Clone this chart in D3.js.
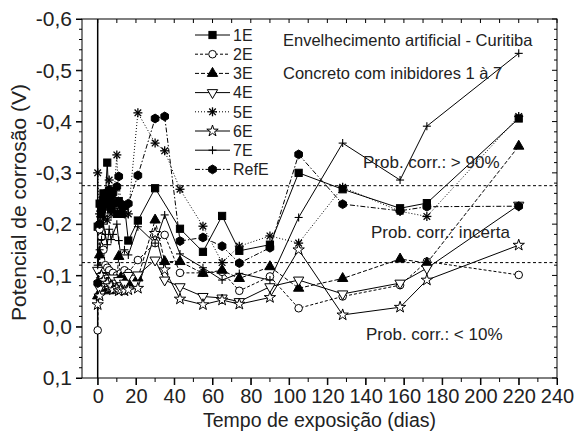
<!DOCTYPE html>
<html><head><meta charset="utf-8">
<script src="https://cdn.jsdelivr.net/npm/d3@7"></script>
<style>
html,body{margin:0;padding:0;background:#fff;}
svg{display:block;font-family:"Liberation Sans",Arial,Helvetica,sans-serif;}
</style></head>
<body><div id="chart"></div>
<script>
// ---- data ----
const days = [0, 1, 2, 3, 4, 5, 6, 7, 8, 10, 11, 12, 14, 16, 21, 30, 35, 43, 55, 65, 74, 90, 105, 128, 158, 172, 220];
const s1E  = [-0.195,-0.24,-0.22,-0.26,-0.25,-0.32,-0.24,-0.23,-0.24,-0.22,-0.245,-0.22,-0.235,-0.168,-0.207,-0.27,null,-0.191,-0.146,-0.216,-0.148,-0.16,-0.30,-0.268,-0.231,-0.241,-0.406];
const s2E  = [0.007,-0.19,-0.175,-0.15,-0.12,-0.115,-0.11,-0.10,-0.105,-0.10,-0.095,-0.104,-0.11,-0.105,-0.13,-0.163,-0.179,-0.105,-0.105,-0.107,-0.07,-0.098,-0.036,-0.059,-0.081,-0.127,-0.101];
const s3E  = [-0.06,-0.14,-0.09,-0.08,-0.075,-0.085,-0.07,-0.08,-0.085,-0.09,-0.137,-0.095,-0.09,-0.085,-0.095,-0.208,-0.127,-0.127,-0.104,-0.11,-0.094,-0.117,-0.075,-0.094,-0.132,-0.124,-0.352];
const s4E  = [-0.11,-0.075,-0.09,-0.10,-0.095,-0.085,-0.08,-0.09,-0.095,-0.085,-0.09,-0.08,-0.085,-0.10,-0.101,-0.13,-0.091,-0.078,-0.059,-0.056,-0.049,-0.078,-0.091,-0.064,-0.085,-0.114,-0.237];
const s5E  = [-0.30,-0.22,-0.24,-0.21,-0.23,-0.208,-0.286,-0.22,-0.23,-0.335,-0.24,-0.23,-0.22,-0.22,-0.417,-0.358,-0.343,-0.268,-0.196,-0.125,-0.157,-0.177,-0.163,-0.272,-0.225,-0.215,-0.41];
const s6E  = [-0.043,-0.06,-0.10,-0.09,-0.08,-0.085,-0.075,-0.08,-0.072,-0.075,-0.07,-0.072,-0.07,-0.072,-0.075,-0.182,-0.111,-0.054,-0.043,-0.052,-0.044,-0.057,-0.15,-0.023,-0.038,-0.091,-0.159];
const s7E  = [-0.12,-0.15,-0.17,-0.20,-0.18,-0.16,-0.19,-0.17,-0.18,-0.20,-0.168,-0.14,-0.15,-0.14,-0.195,-0.163,-0.218,-0.142,-0.115,-0.091,-0.104,-0.091,-0.213,-0.358,-0.286,-0.391,-0.533];
const sRefE= [-0.085,-0.20,-0.23,-0.25,-0.26,-0.24,-0.267,-0.25,-0.26,-0.273,-0.293,-0.24,-0.235,-0.24,-0.295,-0.406,-0.41,-0.167,-0.174,-0.157,-0.124,-0.154,-0.336,-0.239,-0.226,-0.234,-0.235];
const seriesNames = ["1E","2E","3E","4E","5E","6E","7E","RefE"];
const xTicks = [0,20,40,60,80,100,120,140,160,180,200,220,240];
const yTicks = [-0.6,-0.5,-0.4,-0.3,-0.2,-0.1,0.0,0.1];
const thresholds = [-0.275, -0.125];
const texts = ["Envelhecimento artificial - Curitiba","Concreto com inibidores 1 à 7","Prob. corr.: > 90%","Prob. corr.: incerta","Prob. corr.: < 10%"];

// ---- layout ----
const W = 578, H = 436;
const L = 82, R = 557, T = 19, B = 378;
const svg = d3.select("#chart").append("svg").attr("width", W).attr("height", H);
const x = d3.scaleLinear().domain([-8.2, 240]).range([L, R]);
const y = d3.scaleLinear().domain([-0.6, 0.1]).range([T, B]);
const fmt = v => d3.format(".1f")(Math.abs(v) < 1e-9 ? 0 : v).replace("−","-").replace(".", ",");

// frame
svg.append("rect").attr("x", L).attr("y", T).attr("width", R-L).attr("height", B-T)
  .attr("fill","none").attr("stroke","#000").attr("stroke-width",1);

// minor ticks
const xMinor = d3.range(0, 241, 10);
const yMinor = d3.range(-30, 6).map(d => d/50);
svg.append("g").selectAll("line").data(xMinor).join("line")
  .attr("x1", d=>x(d)).attr("x2", d=>x(d)).attr("y1", B).attr("y2", d => B + (d%20===0?7:4))
  .attr("stroke","#000");
svg.append("g").selectAll("line").data(xMinor).join("line")
  .attr("x1", d=>x(d)).attr("x2", d=>x(d)).attr("y1", T).attr("y2", T+4)
  .attr("stroke","#000");
svg.append("g").selectAll("line").data(yMinor).join("line")
  .attr("y1", d=>y(d)).attr("y2", d=>y(d)).attr("x1", L).attr("x2", d => L - (Math.abs(Math.round(d*50))%5===0?6:3))
  .attr("stroke","#000");
svg.append("g").selectAll("line").data(yMinor).join("line")
  .attr("y1", d=>y(d)).attr("y2", d=>y(d)).attr("x1", R).attr("x2", d => R - (Math.abs(Math.round(d*50))%5===0?5:3))
  .attr("stroke","#000");

// axes labels via d3 axes
const xAxis = d3.axisBottom(x).tickValues(xTicks).tickSize(7).tickPadding(4).tickSizeOuter(0).tickFormat(d3.format("d"));
const gx = svg.append("g").attr("transform", `translate(0,${B})`).call(xAxis);
gx.select(".domain").remove();
gx.selectAll("text").attr("font-size", 20).attr("fill","#222").attr("font-family","Liberation Sans, Arial, sans-serif");
const yAxis = d3.axisLeft(y).tickValues(yTicks).tickSize(6).tickPadding(4).tickSizeOuter(0).tickFormat(fmt);
const gy = svg.append("g").attr("transform", `translate(${L},0)`).call(yAxis);
gy.select(".domain").remove();
gy.selectAll("text").attr("font-size", 21).attr("fill","#222").attr("font-family","Liberation Sans, Arial, sans-serif");

// titles
svg.append("text").attr("x", (L+R)/2).attr("y", 427).attr("text-anchor","middle")
  .attr("font-size", 19.5).attr("fill","#222").text("Tempo de exposição (dias)");
svg.append("text").attr("transform", `translate(26,${(T+B)/2+4}) rotate(-90)`).attr("text-anchor","middle")
  .attr("font-size", 21).attr("fill","#222").text("Potencial de corrosão (V)");

// reference lines
svg.append("line").attr("x1", x(0)).attr("x2", x(0)).attr("y1", T).attr("y2", B)
  .attr("stroke","#000").attr("stroke-width",1.5);
svg.append("g").selectAll("line").data(thresholds).join("line")
  .attr("x1", L).attr("x2", R).attr("y1", d=>y(d)).attr("y2", d=>y(d))
  .attr("stroke","#000").attr("stroke-width",1).attr("stroke-dasharray","3,2.5");

// series
const seriesData = [s1E,s2E,s3E,s4E,s5E,s6E,s7E,sRefE];
const dashes = [null,"3,2","4,2",null,"1,2",null,null,"5,2,1.5,2"];
const hex = d3.range(6).map(i => [4.4*Math.cos(Math.PI/6 + i*Math.PI/3), 4.4*Math.sin(Math.PI/6 + i*Math.PI/3)]);
function marker(g, i) {
  g.attr("stroke","#000").attr("stroke-width",1);
  switch(i){
    case 0: g.append("rect").attr("x",-3.6).attr("y",-3.6).attr("width",7.2).attr("height",7.2).attr("fill","#000"); break;
    case 1: g.append("circle").attr("r",3.8).attr("fill","#fff"); break;
    case 2: g.append("path").attr("d", d3.symbol(d3.symbolTriangle, 46)()).attr("fill","#000"); break;
    case 3: g.append("path").attr("d", d3.symbol(d3.symbolTriangle, 46)()).attr("transform","rotate(180)").attr("fill","#fff"); break;
    case 4: [[0,-4.5,0,4.5],[-4.5,0,4.5,0],[-3.3,-3.3,3.3,3.3],[-3.3,3.3,3.3,-3.3]].forEach(l =>
              g.append("line").attr("x1",l[0]).attr("y1",l[1]).attr("x2",l[2]).attr("y2",l[3]).attr("stroke-width",1.3)); break;
    case 5: g.append("path").attr("d", d3.symbol(d3.symbolStar, 40)()).attr("fill","#fff"); break;
    case 6: [[0,-4,0,4],[-4,0,4,0]].forEach(l =>
              g.append("line").attr("x1",l[0]).attr("y1",l[1]).attr("x2",l[2]).attr("y2",l[3]).attr("stroke-width",1.1)); break;
    case 7: g.append("path").attr("d", "M" + hex.join("L") + "Z").attr("fill","#000"); break;
  }
}
const line = d3.line().defined(d => d[1] !== null).x(d => x(d[0])).y(d => y(d[1]));
const plot = svg.append("g");
seriesData.forEach((vals, i) => {
  const pts = days.map((d, k) => [d, vals[k]]).filter(p => p[1] !== null);
  plot.append("path").datum(pts).attr("d", line).attr("fill","none").attr("stroke","#000")
    .attr("stroke-width",1).attr("stroke-dasharray", dashes[i]);
});
seriesData.forEach((vals, i) => {
  const pts = days.map((d, k) => [d, vals[k]]).filter(p => p[1] !== null);
  plot.append("g").selectAll("g").data(pts).join("g")
    .attr("transform", p => `translate(${x(p[0])},${y(p[1])})`)
    .each(function(){ marker(d3.select(this), i); });
});

// legend
const lg = svg.append("g");
seriesNames.forEach((n, i) => {
  const yy = 35 + i*19.2;
  const g = lg.append("g");
  g.append("line").attr("x1",195).attr("x2",230).attr("y1",yy).attr("y2",yy)
    .attr("stroke","#000").attr("stroke-width",1).attr("stroke-dasharray", dashes[i]);
  const m = g.append("g").attr("transform", `translate(212.5,${yy})`);
  marker(m, i);
  g.append("text").attr("x",233).attr("y",yy+5.8).attr("font-size",16).attr("fill","#222").text(n);
});

// annotations
const ann = [[283,46,texts[0]],[283,79,texts[1]],[363,168,texts[2]],[371,238,texts[3]],[366,340,texts[4]]];
svg.append("g").selectAll("text").data(ann).join("text")
  .attr("x", d=>d[0]).attr("y", d=>d[1]).attr("font-size", (d,i)=> i<2?16.5:17).attr("fill","#222").text(d=>d[2]);
</script></body></html>
